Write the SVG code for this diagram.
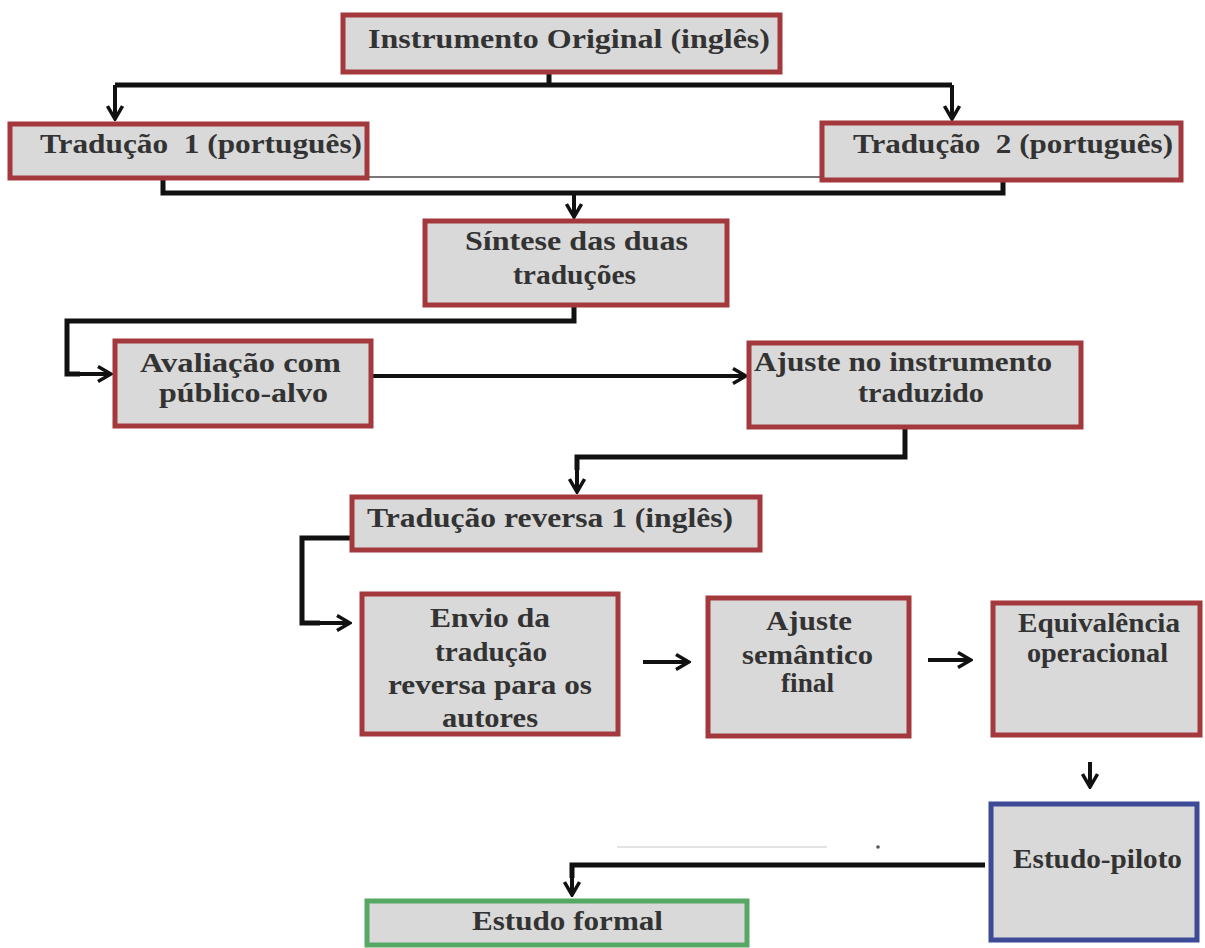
<svg xmlns="http://www.w3.org/2000/svg" width="1205" height="948" viewBox="0 0 1205 948">
<style>
.box{fill:#d9d9d9;stroke:#a3393d;stroke-width:5}
.blue{fill:#d9d9d9;stroke:#3d4a96;stroke-width:5}
.green{fill:#d9d9d9;stroke:#58a865;stroke-width:5}
.t{font-family:"Liberation Serif","Times New Roman",serif;font-size:27px;font-weight:bold;fill:#333333}
.ln{fill:none;stroke:#111;stroke-width:5;stroke-linejoin:miter}
.ar{fill:none;stroke:#111;stroke-width:4}
</style>
<defs>
<marker id="ah" viewBox="0 0 18 18" refX="16" refY="9" markerWidth="18" markerHeight="18" markerUnits="userSpaceOnUse" orient="auto">
<path d="M3,1.5 L16,9 L3,16.5" fill="none" stroke="#111" stroke-width="3.5"/>
</marker>
</defs>
<rect width="1205" height="948" fill="#ffffff"/>

<g id="connectors">
<path class="ln" d="M549,72 V85"/>
<path class="ln" d="M115,85 H952"/>
<path class="ar" d="M115,85 V119" marker-end="url(#ah)"/>
<path class="ar" d="M952,85 V119" marker-end="url(#ah)"/>
<path d="M367,177 H822" stroke="#777" stroke-width="2" fill="none"/>
<path class="ln" d="M163,178 V193 H1003 V180"/>
<path class="ar" d="M574,193 V217" marker-end="url(#ah)"/>
<path class="ln" d="M574,305 V321 H67 V374 H80"/>
<path class="ar" d="M70,374 H111" marker-end="url(#ah)"/>
<path class="ar" d="M371,376 H746" marker-end="url(#ah)"/>
<path class="ln" d="M905,427 V457 H577 V470"/>
<path class="ar" d="M577,465 V492" marker-end="url(#ah)"/>
<path class="ln" d="M352,538 H302 V623 H320"/>
<path class="ar" d="M310,623 H350" marker-end="url(#ah)"/>
<path class="ar" d="M643,662 H689" marker-end="url(#ah)"/>
<path class="ar" d="M928,660 H971" marker-end="url(#ah)"/>
<path class="ar" d="M1090,762 V787" marker-end="url(#ah)"/>
<path d="M617,847 H827" stroke="#e3e3e3" stroke-width="2" fill="none"/>
<circle cx="878" cy="847" r="1.8" fill="#555"/>
<path class="ln" d="M985,865 H572 V878"/>
<path class="ar" d="M572,870 V895" marker-end="url(#ah)"/>
</g>

<g id="n1">
<rect class="box" x="343" y="15" width="437" height="57"/>
<text class="t" x="368" y="48" textLength="402" lengthAdjust="spacingAndGlyphs">Instrumento Original (inglês)</text>
</g>
<g id="n2">
<rect class="box" x="10" y="124" width="357" height="54"/>
<text class="t" x="40" y="153" textLength="322" lengthAdjust="spacingAndGlyphs" xml:space="preserve">Tradução  1 (português)</text>
</g>
<g id="n3">
<rect class="box" x="822" y="123" width="359" height="57"/>
<text class="t" x="853" y="153" textLength="320" lengthAdjust="spacingAndGlyphs" xml:space="preserve">Tradução  2 (português)</text>
</g>
<g id="n4">
<rect class="box" x="425" y="221" width="302" height="84"/>
<text class="t" x="465" y="250" textLength="223" lengthAdjust="spacingAndGlyphs">Síntese das duas</text>
<text class="t" x="513" y="284" textLength="123" lengthAdjust="spacingAndGlyphs">traduções</text>
</g>
<g id="n5">
<rect class="box" x="115" y="341" width="256" height="85"/>
<text class="t" x="140" y="372" textLength="201" lengthAdjust="spacingAndGlyphs">Avaliação com</text>
<text class="t" x="159" y="402" textLength="169" lengthAdjust="spacingAndGlyphs">público-alvo</text>
</g>
<g id="n6">
<rect class="box" x="749" y="343" width="332" height="84"/>
<text class="t" x="754" y="371" textLength="298" lengthAdjust="spacingAndGlyphs">Ajuste no instrumento</text>
<text class="t" x="858" y="402" textLength="126" lengthAdjust="spacingAndGlyphs">traduzido</text>
</g>
<g id="n7">
<rect class="box" x="352" y="497" width="408" height="53"/>
<text class="t" x="367" y="527" textLength="366" lengthAdjust="spacingAndGlyphs">Tradução reversa 1 (inglês)</text>
</g>
<g id="n8">
<rect class="box" x="362" y="594" width="256" height="140"/>
<text class="t" x="430" y="627" textLength="120" lengthAdjust="spacingAndGlyphs">Envio da</text>
<text class="t" x="435" y="661" textLength="112" lengthAdjust="spacingAndGlyphs">tradução</text>
<text class="t" x="388" y="694" textLength="204" lengthAdjust="spacingAndGlyphs">reversa para os</text>
<text class="t" x="442" y="727" textLength="96" lengthAdjust="spacingAndGlyphs">autores</text>
</g>
<g id="n9">
<rect class="box" x="708" y="598" width="201" height="138"/>
<text class="t" x="766" y="630" textLength="86" lengthAdjust="spacingAndGlyphs">Ajuste</text>
<text class="t" x="742" y="664" textLength="131" lengthAdjust="spacingAndGlyphs">semântico</text>
<text class="t" x="781" y="692" textLength="53" lengthAdjust="spacingAndGlyphs">final</text>
</g>
<g id="n10">
<rect class="box" x="993" y="603" width="207" height="132"/>
<text class="t" x="1018" y="632" textLength="162" lengthAdjust="spacingAndGlyphs">Equivalência</text>
<text class="t" x="1027" y="662" textLength="141" lengthAdjust="spacingAndGlyphs">operacional</text>
</g>
<g id="n11">
<rect class="blue" x="991" y="804" width="206" height="136"/>
<text class="t" x="1013" y="868" textLength="169" lengthAdjust="spacingAndGlyphs">Estudo-piloto</text>
</g>
<g id="n12">
<rect class="green" x="367" y="901" width="380" height="44"/>
<text class="t" x="472" y="930" textLength="191" lengthAdjust="spacingAndGlyphs">Estudo formal</text>
</g>
</svg>
